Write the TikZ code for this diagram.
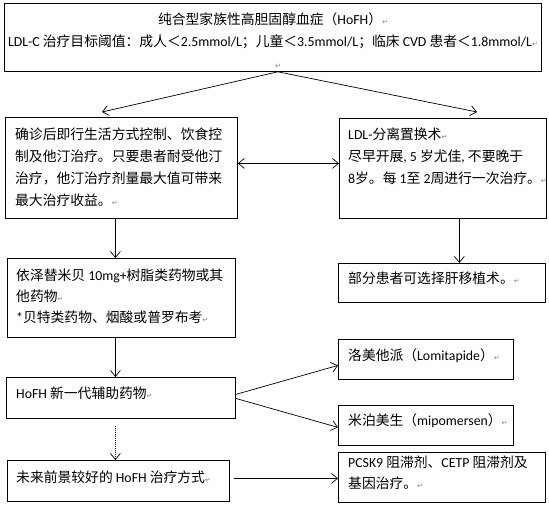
\documentclass[tikz,border=0pt]{standalone}
\usepackage{fontspec}
\setmainfont{Noto Sans CJK SC}
\newfontfamily\latf{Carlito}
\newfontfamily\dvf{DejaVu Sans}
\newcommand\La[1]{{\latf #1}}
\newcommand\rmk{{\dvf\fontsize{7pt}{7pt}\selectfont\textcolor{gray}{↵}}}
\usetikzlibrary{arrows.meta}
\tikzset{
  box/.style={draw, line width=0.8pt, inner sep=0pt, anchor=north west},
  txt/.style={inner sep=0pt, anchor=base west, align=left, font=\fontsize{13.8pt}{22pt}\selectfont},
  arr/.style={line width=0.7pt, -{Straight Barb[length=6pt,width=10pt]}},
  darr/.style={line width=0.7pt, {Straight Barb[length=6pt,width=10pt]}-{Straight Barb[length=6pt,width=10pt]}},
}
\begin{document}
\begin{tikzpicture}[x=1pt,y=-1pt]
\useasboundingbox[fill=white] (0,0) rectangle (549,507);
% boxes
\node[box, minimum width=537pt, minimum height=68pt] (top) at (4,3) {};
\node[box, minimum width=232pt, minimum height=101pt] (l1) at (5,117) {};
\node[box, minimum width=207pt, minimum height=100pt] (r1) at (339,118) {};
\node[box, minimum width=228pt, minimum height=79pt] (l2) at (7,258) {};
\node[box, minimum width=207pt, minimum height=39pt] (r2) at (338,263) {};
\node[box, minimum width=229pt, minimum height=41pt] (l3) at (6,377) {};
\node[box, minimum width=175pt, minimum height=40pt] (lom) at (338,339) {};
\node[box, minimum width=175pt, minimum height=40pt] (mip) at (338,405) {};
\node[box, minimum width=222pt, minimum height=41pt] (l4) at (7,460) {};
\node[box, minimum width=207pt, minimum height=50pt] (pc) at (338,452) {};
% texts (multi-line nodes: base anchor = last line's baseline)
\node[txt, anchor=base, align=center] (topt) at (273,68) {纯合型家族性高胆固醇血症（\La{HoFH}）\rmk\\
\La{LDL-C} 治疗目标阈值：成人＜\La{2.5mmol/L}；儿童＜\La{3.5mmol/L}；临床 \La{CVD} 患者＜\La{1.8mmol/L}\rmk\\
\hspace*{10pt}\rmk};
\node[txt] (l1t) at (15,205) {确诊后即行生活方式控制、饮食控\\制及他汀治疗。只要患者耐受他汀\\治疗，他汀治疗剂量最大值可带来\\最大治疗收益。\rmk};
\node[txt] (r1t) at (348,183) {\La{LDL-}分离置换术\rmk\\尽早开展\La{, 5} 岁尤佳\La{,} 不要晚于\\\La{8}岁。每 \La{1}至 \La{2}周进行一次治疗。\rmk};
\node[txt, font=\fontsize{13.8pt}{21pt}\selectfont] (l2t) at (16,322) {依泽替米贝 \La{10mg+}树脂类药物或其\\他药物\rmk\\\La{*}贝特类药物、烟酸或普罗布考\rmk};
\node[txt] (r2t) at (348,283) {部分患者可选择肝移植术。\rmk};
\node[txt] (l3t) at (16,398) {\La{HoFH} 新一代辅助药物\rmk};
\node[txt] (lomt) at (348,360) {洛美他派（\La{Lomitapide}）\rmk};
\node[txt] (mipt) at (348,425) {米泊美生（\La{mipomersen}）\rmk};
\node[txt] (l4t) at (16,482) {未来前景较好的 \La{HoFH} 治疗方式\rmk};
\node[txt, font=\fontsize{13.8pt}{21pt}\selectfont] (pct) at (348,488) {\La{PCSK9} 阻滞剂、\La{CETP} 阻滞剂及\\基因治疗。\rmk};
% connectors
\coordinate (t1) at (102,112);
\coordinate (t2) at (477,112);
\draw[arr] ([xshift=5pt]top.south) -- (t1);
\draw[arr] ([xshift=5pt]top.south) -- (t2);
\draw[darr] ([yshift=4.5pt]l1.east) -- ([yshift=4.5pt]l1.east -| r1.west);
\draw[arr] ([xshift=-6pt]l1.south) -- ([xshift=-6pt]l1.south |- l2.north);
\draw[arr] ([xshift=16.5pt]r1.south) -- ([xshift=16.5pt]r1.south |- r2.north);
\draw[arr] ([xshift=-6pt]l2.south) -- ([xshift=-6pt]l2.south |- l3.north);
\draw[arr, dash pattern=on 1pt off 1pt] ([xshift=-5.5pt,yshift=-7pt]l3.south) -- ([xshift=-5.5pt]l3.south |- l4.north);
\draw[arr] ([yshift=3.5pt]l3.east) -- ([yshift=-6pt]lom.west);
\draw[arr] ([yshift=-0.5pt]l3.east) -- ([yshift=-2pt]mip.west);
\draw[arr] ([xshift=4pt,yshift=2.5pt]l4.east) -- ([yshift=-1pt]pc.west);
\end{tikzpicture}
\end{document}
